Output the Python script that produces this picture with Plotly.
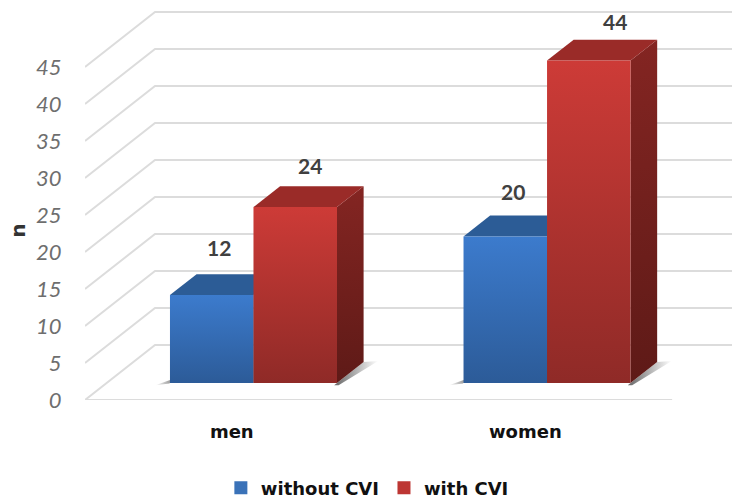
import plotly.graph_objects as go

categories = ["men", "women"]
without_cvi = [12, 20]
with_cvi = [24, 44]
y_ticks = [0, 5, 10, 15, 20, 25, 30, 35, 40, 45]
y_title = "n"

# projection constants (oblique 3D look)
X_DEPTH = 0.2385      # x shift of the back wall, in category units
Y_DEPTH = 7.43        # y shift of the back wall, in value units
BAR_FRONT = 0.31      # floor depth of bars' front face
BAR_BACK = 0.69       # floor depth of bars' back face
BAR_W = 0.2845        # bar width in category units
H_SCALE = 0.99
X_MIN, X_MAX = -0.5, 1.704

def proj(x, v, d):
    return x + X_DEPTH * d, v * H_SCALE + Y_DEPTH * d

def poly(pts):
    xs, ys = zip(*[proj(*p) for p in pts])
    return list(xs) + [xs[0]], list(ys) + [ys[0]]

def face(pts, bottom, top, fig, kind="vertical"):
    xs, ys = poly(pts)
    fig.add_trace(go.Scatter(
        x=xs, y=ys, mode="lines", fill="toself", line=dict(width=0),
        fillgradient=dict(type=kind, colorscale=[[0, bottom], [1, top]]),
        hoverinfo="skip", showlegend=False))

fig = go.Figure()

# gridlines: front edge, diagonal and back wall
GRID = "#dcdcdc"
for v in y_ticks:
    fig.add_trace(go.Scatter(
        x=[X_MIN, X_MIN + X_DEPTH, X_MAX], y=[v, v + Y_DEPTH, v + Y_DEPTH],
        mode="lines", line=dict(color=GRID, width=2),
        hoverinfo="skip", showlegend=False))
fig.add_trace(go.Scatter(
    x=[X_MIN, X_MIN + 2], y=[0, 0], mode="lines",
    line=dict(color=GRID, width=2), hoverinfo="skip", showlegend=False))

BLUE = dict(front=("#2c5b98", "#3c7bcd"), top="#2c5c96", side=("#1f416d", "#2a5488"))
RED = dict(front=("#8f2a27", "#cd3b37"), top="#9a2b28", side=("#5e1a17", "#842522"))

# floor shadows
for i in range(len(categories)):
    left = i - BAR_W
    right = i + BAR_W
    face([(left, 0, BAR_FRONT - 0.01), (left - 0.04, 0, BAR_FRONT - 0.04), (left, 0, BAR_FRONT + 0.1)],
         "#ffffff", "#707070", fig, "horizontal")
    face([(right, 0, BAR_FRONT - 0.04), (right, 0, BAR_BACK),
          (right + 0.045, 0, BAR_BACK + 0.02), (right + 0.015, 0, BAR_FRONT - 0.04)],
         "#666666", "#ffffff", fig, "horizontal")

def bar(x0, x1, v, style):
    # side, top, front
    face([(x1, 0, BAR_FRONT), (x1, 0, BAR_BACK), (x1, v, BAR_BACK), (x1, v, BAR_FRONT)],
         style["side"][0], style["side"][1], fig)
    xs, ys = poly([(x0, v, BAR_FRONT), (x1, v, BAR_FRONT), (x1, v, BAR_BACK), (x0, v, BAR_BACK)])
    fig.add_trace(go.Scatter(x=xs, y=ys, mode="lines", fill="toself", line=dict(width=0),
                             fillcolor=style["top"], hoverinfo="skip", showlegend=False))
    face([(x0, 0, BAR_FRONT), (x1, 0, BAR_FRONT), (x1, v, BAR_FRONT), (x0, v, BAR_FRONT)],
         style["front"][0], style["front"][1], fig)

for i in range(len(categories)):
    bar(i - BAR_W, i, without_cvi[i], BLUE)
    bar(i, i + BAR_W, with_cvi[i], RED)

# legend entries
for name, col in [("without CVI", "#3a72b8"), ("with CVI", "#bd3633")]:
    fig.add_trace(go.Scatter(x=[None], y=[None], mode="markers", name=name,
                             marker=dict(symbol="square", size=13, color=col)))

# data labels (pixel nudges from bar's front-top centre)
LABEL_SHIFT = {"without": [(7, 48), (7.5, 45)], "with": [(14.5, 42), (26.5, 39)]}
annots = []
for i in range(len(categories)):
    for vals, key, x_c in [(without_cvi, "without", i - BAR_W / 2), (with_cvi, "with", i + BAR_W / 2)]:
        px, py = proj(x_c, vals[i], BAR_FRONT)
        sx, sy = LABEL_SHIFT[key][i]
        annots.append(dict(x=px, y=py, xref="x", yref="y", text=f"<b>{vals[i]}</b>",
                           showarrow=False, xshift=sx, yshift=sy,
                           font=dict(family="Lato", size=21, color="#404040")))
annots.append(dict(xref="paper", yref="paper", x=-0.1039, y=0.4225, xanchor="center", yanchor="middle",
                   text=f"<b>{y_title}</b>", textangle=-90, showarrow=False,
                   font=dict(family="DejaVu Sans", size=20, color="#333333")))

LABEL_FONT = dict(family="DejaVu Sans", size=18, color="#111111", weight="bold")

fig.update_layout(
    width=732, height=499, autosize=False,
    margin=dict(l=85, r=0, t=0, b=99, autoexpand=False),
    paper_bgcolor="white", plot_bgcolor="white",
    annotations=annots,
    showlegend=True,
    legend=dict(orientation="h", xref="paper", yref="paper", x=0.21, y=-0.22,
                xanchor="left", yanchor="middle",
                font=LABEL_FONT,
                itemwidth=30, tracegroupgap=0, bgcolor="rgba(0,0,0,0)"),
    xaxis=dict(range=[X_MIN, X_MAX], tickmode="array", tickvals=[0, 1], ticktext=categories,
               showgrid=False, zeroline=False, showline=False, ticks="outside", ticklen=15,
               tickcolor="rgba(0,0,0,0)",
               tickfont=LABEL_FONT),
    yaxis=dict(range=[0, 54.05], tickmode="array", tickvals=y_ticks,
               showgrid=False, zeroline=False, showline=False, ticks="outside", ticklen=18,
               tickcolor="rgba(0,0,0,0)",
               tickfont=dict(family="Lato", size=22, color="#6e6e6e", style="italic")),
)
fig.write_html("out.html", post_script="document.body.style.margin='0';",
               config={"displayModeBar": False})
